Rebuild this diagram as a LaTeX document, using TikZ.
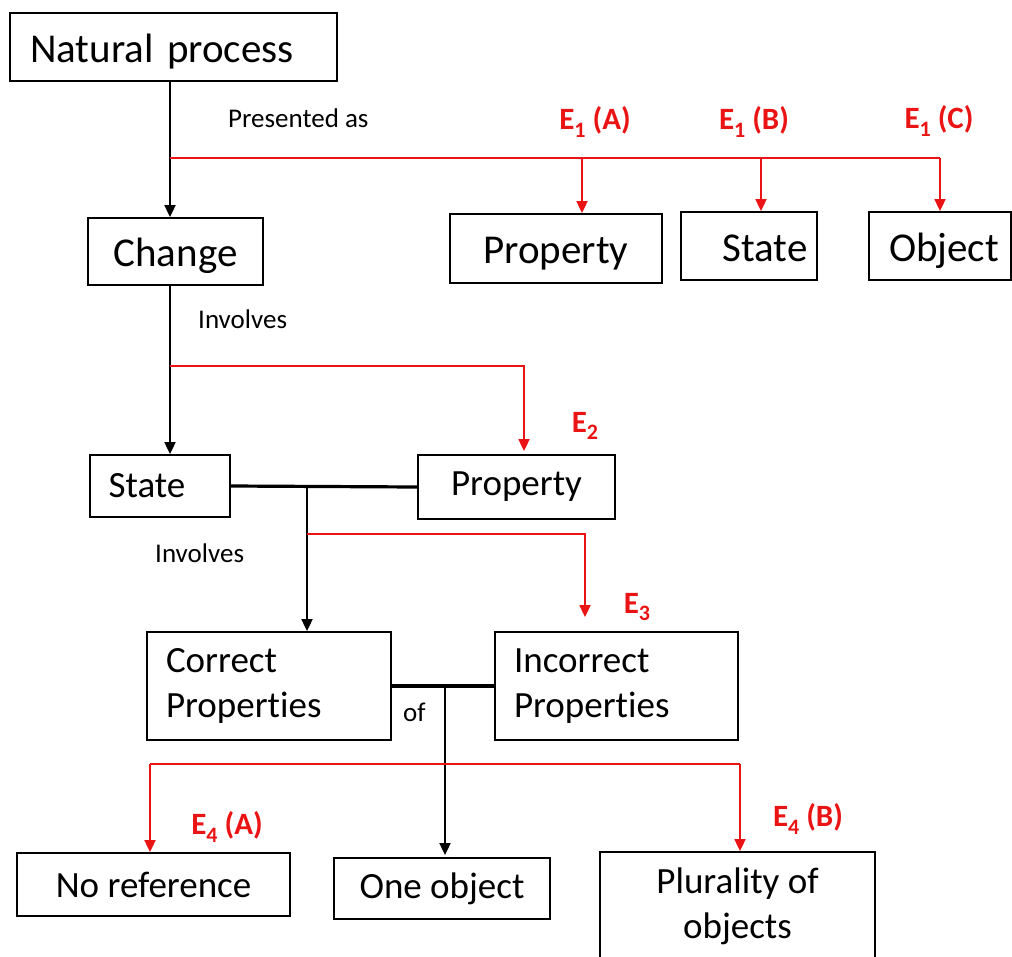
\documentclass[tikz,border=0pt]{standalone}
\usepackage{fontspec}
\setmainfont{Carlito}[Ligatures={NoCommon,NoDiscretionary,NoContextual}]
\usetikzlibrary{arrows.meta,calc}
\definecolor{ered}{RGB}{235,20,20}
\newcommand\Esub[1]{E\raisebox{-0.25em}{\fontsize{22}{22}\selectfont #1}}
\begin{document}
\begin{tikzpicture}[x=1pt,y=-1pt,
 box/.style={draw=black, line width=1.8pt, inner sep=0pt, font=\fontsize{41}{49}\selectfont},
 bigbox/.style={box, text height=34pt, text depth=4pt},
 mbox/.style={box, font=\fontsize{37}{45}\selectfont},
 lab/.style={font=\fontsize{27}{32}\selectfont, anchor=west, inner sep=0pt},
 elab/.style={text=ered, font=\bfseries\fontsize{31}{34}\selectfont, inner sep=0pt},
 barr/.style={draw=black, line width=1.8pt, -{Triangle[length=12pt,width=11pt]}},
 rarr/.style={draw=ered, line width=1.8pt, -{Triangle[length=12pt,width=11pt]}},
 rline/.style={draw=ered, line width=1.8pt},
 bline/.style={draw=black, line width=3.2pt},
]
\clip (0,0) rectangle (1012,956);
\fill[white] (0,0) rectangle (1012,956);

% boxes
\node[bigbox, text width=287pt, inner xsep=20pt, align=left, minimum height=68pt] (np) at (173.5,47) {Natural process};
\node[bigbox, minimum width=175pt, minimum height=67pt] (change) at (175.5,251.5) {Change};
\node[bigbox, minimum width=212pt, minimum height=69pt] (prop1) at (556,248.5) {Property};
\node[bigbox, minimum width=136pt, minimum height=68pt] (state1) at (749,246) {\hspace*{32pt}State};
\node[bigbox, minimum width=142pt, minimum height=68pt] (object) at (940,246) {\hspace*{8pt}Object};

\node[mbox, minimum width=140pt, minimum height=62pt] (state2) at (160,486) {State\hspace*{26pt}};
\node[mbox, minimum width=197pt, minimum height=64pt] (prop2) at (516.5,487) {Property};

\node[mbox, text width=206pt, inner xsep=19pt, align=left, minimum height=108pt] (corr) at (269,686) {Correct\\Properties};
\node[mbox, text width=205pt, inner xsep=19pt, align=left, minimum height=108pt] (incorr) at (616.5,686) {Incorrect\\Properties};

\node[mbox, minimum width=273pt, minimum height=63pt] (noref) at (153.5,884.5) {No reference};
\node[mbox, minimum width=216pt, minimum height=61pt] (one) at (442,888.5) {One object};
\node[mbox, minimum width=275pt, minimum height=108pt, align=center] (plur) at (737.5,906) {Plurality of\\objects};

% labels
\node[lab] (pa) at (228,118) {Presented as};
\node[lab] (inv1) at (198,319) {Involves};
\node[lab] (inv2) at (155,553) {Involves};
\node[lab] (of) at (403,712) {of};

\node[elab] (e1a) at (595,122) {\Esub{1} (A)};
\node[elab] (e1b) at (754,122) {\Esub{1} (B)};
\node[elab] (e1c) at (939,121) {\Esub{1} (C)};
\node[elab] (e2) at (585,426) {\Esub{2}};
\node[elab] (e3) at (637,607) {\Esub{3}};
\node[elab] (e4a) at (227,827) {\Esub{4} (A)};
\node[elab] (e4b) at (808,819) {\Esub{4} (B)};

% coordinates
\coordinate (a1) at (170,0);
\coordinate (r1s) at (170,158);
\coordinate (r1a) at (582,158);
\coordinate (r1b) at (761,158);
\coordinate (r1c) at (940,158);
\coordinate (r2s) at (170,366);
\coordinate (r2c) at (524,366);
\coordinate (j2) at (307,488);
\coordinate (r3s) at (307,534);
\coordinate (r3c) at (585,534);
\coordinate (j3) at (445,688);
\coordinate (r4a) at (150,764);
\coordinate (r4b) at (740,764);

% black connectors
\draw[barr] (np.south -| a1) -- (change.north -| a1);
\draw[barr] (change.south -| a1) -- (state2.north -| a1);
\draw[bline] (state2.east) -- (prop2.west);
\draw[barr] (j2) -- (j2 |- corr.north);
\draw[bline] (corr.east) -- (incorr.west);
\draw[barr] (j3) -- ($(j3 |- one.north)+(0,-2)$);

% red connectors
\draw[rline] (r1s) -- (r1c);
\draw[rarr] (r1a) -- (r1a |- prop1.north);
\draw[rarr] (r1b) -- (r1b |- state1.north);
\draw[rarr] (r1c) -- (r1c |- object.north);
\draw[rarr] (r2s) -- (r2c) -- ($(r2c |- prop2.north)+(0,-3)$);
\draw[rarr] (r3s) -- (r3c) -- ($(r3c |- incorr.north)+(0,-14)$);
\draw[rline] (r4a) -- (r4b);
\draw[rarr] (r4a) -- (r4a |- noref.north);
\draw[rarr] (r4b) -- (r4b |- plur.north);
\end{tikzpicture}
\end{document}
